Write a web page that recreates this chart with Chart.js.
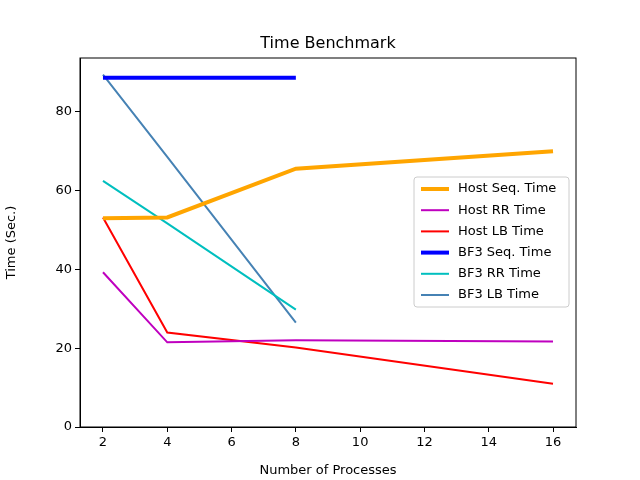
<!DOCTYPE html>
<html>
<head>
<script src="https://cdn.jsdelivr.net/npm/chart.js@4.4.0/dist/chart.umd.min.js"></script>
<style>body{margin:0;background:#fff}</style>
</head>
<body>
<canvas id="c" width="640" height="480" style="width:640px;height:480px"></canvas>
<script>
const hostX = [2, 4, 8, 16];
const bf3X = [2, 4, 8];
const hostSeq = [53, 53.2, 65.6, 70];
const hostRR = [39.3, 21.5, 22, 21.7];
const hostLB = [53.2, 24, 20.2, 11];
const bf3Seq = [88.7, 88.7, 88.7];
const bf3RR = [62.5, 51.7, 29.8];
const bf3LB = [89.5, 68.6, 26.5];
const xTicks = [2, 4, 6, 8, 10, 12, 14, 16];
const yTicks = [0, 20, 40, 60, 80];

const pts = (xs, ys) => xs.map((x, i) => ({ x, y: ys[i] }));
const ds = (label, xs, ys, color, w) => ({
  label, data: pts(xs, ys), borderColor: color, backgroundColor: color,
  borderWidth: w, pointRadius: 0, showLine: true, tension: 0
});

const font = { family: "DejaVu Sans", size: 13 };

// title, frame and in-plot legend
const extras = {
  id: "extras",
  afterDraw(chart) {
    const { ctx, chartArea: a } = chart;
    ctx.save();
    ctx.strokeStyle = "#000";
    ctx.lineWidth = 1;
    ctx.strokeRect(a.left, a.top, a.right - a.left, a.bottom - a.top);
    ctx.fillStyle = "#000";
    ctx.font = "16px DejaVu Sans";
    ctx.textAlign = "center";
    ctx.textBaseline = "bottom";
    ctx.fillText("Time Benchmark", (a.left + a.right) / 2, a.top - 6);

    const bx = 414, by = 177, bw = 155, bh = 130;
    ctx.fillStyle = "rgba(255,255,255,0.8)";
    ctx.strokeStyle = "#ccc";
    ctx.beginPath();
    ctx.roundRect(bx, by, bw, bh, 3);
    ctx.fill();
    ctx.stroke();
    ctx.font = "13px DejaVu Sans";
    ctx.textAlign = "left";
    ctx.textBaseline = "middle";
    chart.data.datasets.forEach((d, i) => {
      const y = by + 12 + i * 21.2;
      ctx.strokeStyle = d.borderColor;
      ctx.lineWidth = d.borderWidth;
      ctx.beginPath();
      ctx.moveTo(bx + 7, y);
      ctx.lineTo(bx + 35, y);
      ctx.stroke();
      ctx.fillStyle = "#000";
      ctx.fillText(d.label, bx + 44, y);
    });
    ctx.restore();
  }
};

new Chart(document.getElementById("c"), {
  type: "scatter",
  data: {
    datasets: [
      ds("Host Seq. Time", hostX, hostSeq, "#FFA500", 4),
      ds("Host RR Time", hostX, hostRR, "#BF00BF", 2),
      ds("Host LB Time", hostX, hostLB, "#FF0000", 2),
      ds("BF3 Seq. Time", bf3X, bf3Seq, "#0000FF", 4),
      ds("BF3 RR Time", bf3X, bf3RR, "#00BFBF", 2),
      ds("BF3 LB Time", bf3X, bf3LB, "#4682B4", 2)
    ]
  },
  options: {
    responsive: false,
    animation: false,
    layout: { padding: { top: 58, right: 64, left: 0, bottom: 0 } },
    plugins: { legend: { display: false }, title: { display: false }, tooltip: { enabled: false } },
    scales: {
      x: {
        type: "linear", min: 1.285, max: 16.715,
        afterBuildTicks: s => { s.ticks = xTicks.map(v => ({ value: v })); },
        afterFit: s => { s.height = 53; },
        grid: { drawOnChartArea: false, tickLength: 5, color: "#000" },
        border: { color: "#000" },
        ticks: { color: "#000", font, padding: 3, autoSkip: false },
        title: { display: true, text: "Number of Processes", color: "#000", font, padding: 2 }
      },
      y: {
        min: 0, max: 93.7,
        afterBuildTicks: s => { s.ticks = yTicks.map(v => ({ value: v })); },
        afterFit: s => { s.width = 80; },
        grid: { drawOnChartArea: false, tickLength: 5, color: "#000" },
        border: { color: "#000" },
        ticks: { color: "#000", font, padding: 3 },
        title: { display: true, text: "Time (Sec.)", color: "#000", font, padding: 4 }
      }
    }
  },
  plugins: [extras]
});
</script>
</body>
</html>
